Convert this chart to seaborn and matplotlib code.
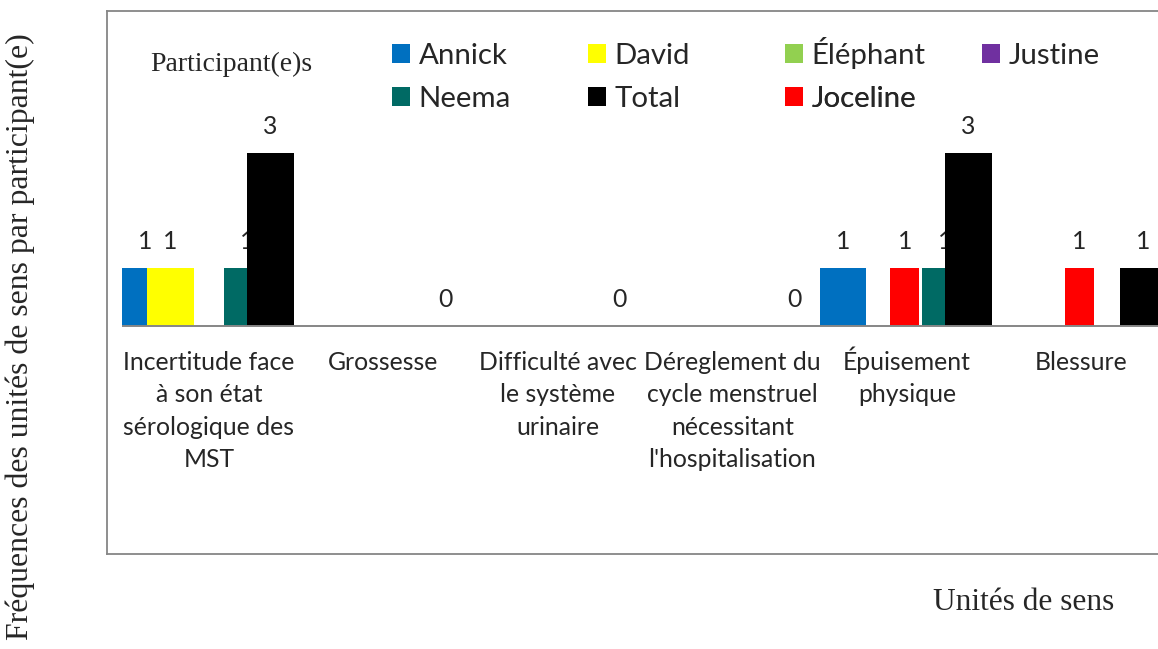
import numpy as np
import pandas as pd
import matplotlib
matplotlib.use("Agg")
import matplotlib.pyplot as plt
from matplotlib.patches import Patch
import seaborn as sns

# Units of meaning (categories on the x axis)
categories = [
    "Incertitude face\nà son état\nsérologique des\nMST",
    "Grossesse",
    "Difficulté avec\nle système\nurinaire",
    "Déreglement du\ncycle menstruel\nnécessitant\nl'hospitalisation",
    "Épuisement\nphysique",
    "Blessure",
]

nan = np.nan
participants = ["Annick", "David", "Éléphant", "Justine", "Neema", "Total", "Joceline"]
annick = [1, nan, nan, nan, 1, nan]
david = [1, nan, nan, nan, nan, nan]
elephant = [nan, nan, nan, nan, nan, nan]
justine = [nan, nan, nan, nan, nan, nan]
neema = [1, nan, nan, nan, 1, nan]
total = [3, 0, 0, 0, 3, 1]
joceline = [nan, nan, nan, nan, 1, 1]
series = [annick, david, elephant, justine, neema, total, joceline]

colors = {
    "Annick": "#0070C0",
    "David": "#FFFF00",
    "Éléphant": "#92D050",
    "Justine": "#7030A0",
    "Neema": "#006A64",
    "Total": "#000000",
    "Joceline": "#FF0000",
}
# left edge and width of each bar inside a category slot of width 1
bar_left = {"Annick": 0.0, "David": 0.145, "Neema": 0.585, "Total": 0.72, "Joceline": 0.403}
bar_width = {"Annick": 0.267, "David": 0.267, "Neema": 0.267, "Total": 0.266, "Joceline": 0.168}

W, H = 1158, 649
GRAY = "#868686"
SANS = "Lato"
SERIF = "Liberation Serif"

sns.set_style("white")
fig = plt.figure(figsize=(W / 100, H / 100), dpi=100)

# axes = chart box; right side runs past the figure edge like the original
box_l, box_t, box_b, box_r = 107, 11, 554, 1175
ax = fig.add_axes([box_l / W, 1 - box_b / H, (box_r - box_l) / W, (box_b - box_t) / H])

x0, slot = 121.7, 174.5      # pixel of category 0 start, category width
unit = 57.5                   # pixels per count
base = 325.7                  # pixel row of zero

for z, (name, vals) in enumerate(zip(participants, series), start=2):
    vals = np.array(vals, dtype=float)
    if np.all(np.isnan(vals)):
        continue
    w = bar_width[name]
    xc = np.arange(len(categories)) + bar_left[name] + w / 2
    df = pd.DataFrame({"x": xc, "y": np.nan_to_num(vals)})
    sns.barplot(data=df, x="x", y="y", native_scale=True, orient="x", width=w,
                color=colors[name], saturation=1, errorbar=None, linewidth=0,
                zorder=z, ax=ax)
    for xi, v in zip(xc, vals):
        if not np.isnan(v):
            ax.text(xi, v + 0.33, f"{v:g}", ha="center", va="baseline",
                    fontsize=17.8, family=SANS, zorder=z)

# category labels under the baseline, one text per wrapped line
line_gap = 32.3
for i, lab in enumerate(categories):
    for k, line in enumerate(lab.split("\n")):
        ax.text(i + 0.5, -(370 + k * line_gap - base) / unit, line,
                ha="center", va="baseline", fontsize=17.8, family=SANS, zorder=20)

ax.hlines(0, 0, 6.5, color=GRAY, lw=1.4, zorder=15)

ax.set_xlim((box_l - x0) / slot, (box_r - x0) / slot)
ax.set_ylim(-(box_b - base) / unit, (base - box_t) / unit)
ax.set_xticks([])
ax.set_yticks([])
ax.set_xlabel("")
ax.set_ylabel("")
for s in ax.spines.values():
    s.set_color(GRAY)
    s.set_linewidth(1.3)

# legend laid out like Excel: fixed grid of 4 columns x 2 rows
# anchored at the bottom so every entry shares the same text baseline
leg_order = ["Annick", "David", "Éléphant", "Justine", "Neema", "Total", "Joceline"]
leg_x = [392, 588, 785, 982]
leg_bottom = [69, 112]
for j, name in enumerate(leg_order):
    lx, ly = leg_x[j % 4], leg_bottom[j // 4]
    leg = ax.legend([Patch(facecolor=colors[name], edgecolor="none")], [name],
                    loc="lower left", bbox_to_anchor=(lx / W, 1 - ly / H),
                    bbox_transform=fig.transFigure, frameon=False,
                    prop={"family": SANS, "size": 21.2},
                    handlelength=0.62, handleheight=0.62, handletextpad=0.28,
                    borderpad=0, borderaxespad=0)
    ax.add_artist(leg)

fig.text(150 / W, 1 - 70.7 / H, "Participant(e)s", family=SERIF, fontsize=20,
         ha="left", va="baseline")
fig.text(20 / W, 1 - 337 / H, "Fréquences des unités de sens par participant(e)",
         family=SERIF, fontsize=22.9, rotation=90, ha="center", va="center")
fig.text(1024 / W, 1 - 602 / H, "Unités de sens", family=SERIF, fontsize=22.6,
         ha="center", va="center")

fig.savefig("out.png", dpi=100)
